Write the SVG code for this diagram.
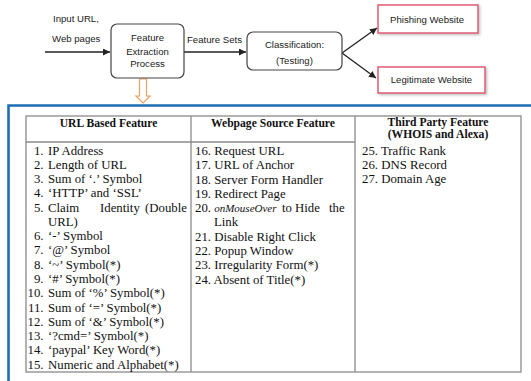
<svg xmlns="http://www.w3.org/2000/svg" width="531" height="381" viewBox="0 0 531 381">
<defs>
<marker id="ah" viewBox="0 0 10 10" refX="10" refY="5" markerWidth="7" markerHeight="7" orient="auto" markerUnits="userSpaceOnUse">
<path d="M0,0 L10,5 L0,10 z" fill="#222"/>
</marker>
<filter id="sh" x="-10%" y="-20%" width="130%" height="160%">
<feDropShadow dx="1.5" dy="1.5" stdDeviation="1.2" flood-color="#999" flood-opacity="0.6"/>
</filter>
</defs>
<style>
.lbl{font-family:"Liberation Sans","Arial",sans-serif;font-size:9.6px;fill:#222}
.box{fill:#fff;stroke:#444;stroke-width:1.2}
.rbox{fill:#fff;stroke:#e0506a;stroke-width:1.4}
.conn{stroke:#222;stroke-width:1.3;fill:none}
.tb{font-family:"Liberation Serif","Times New Roman",serif;font-size:12.8px;fill:#111}
.th{font-family:"Liberation Serif","Times New Roman",serif;font-size:11.6px;font-weight:bold;fill:#111;text-anchor:middle}
.grid{stroke:#8a8a8a;stroke-width:1.3;fill:none}
.num{text-anchor:end}
</style>
<rect width="531" height="381" fill="#fff"/>

<g id="labels">
<text class="lbl" x="53" y="22">Input URL,</text>
<text class="lbl" x="52" y="42">Web pages</text>
<text class="lbl" x="187" y="43">Feature Sets</text>
</g>

<g id="connectors">
<line class="conn" x1="45" y1="52" x2="110" y2="52" marker-end="url(#ah)"/>
<line class="conn" x1="184" y1="52" x2="246" y2="52" marker-end="url(#ah)"/>
<line class="conn" x1="342" y1="53" x2="377" y2="28" marker-end="url(#ah)"/>
<line class="conn" x1="342" y1="53" x2="376" y2="78" marker-end="url(#ah)"/>
<path d="M139.5,79 L146.5,79 L146.5,96 L150,96 L143,103 L136,96 L139.5,96 Z" fill="#fff" stroke="#f0a060" stroke-width="1.2"/>
</g>

<g id="feature-extraction">
<rect class="box" x="111" y="24" width="73" height="54" rx="6"/>
<text class="lbl" x="147.5" y="41" text-anchor="middle">Feature</text>
<text class="lbl" x="147.5" y="55" text-anchor="middle">Extraction</text>
<text class="lbl" x="147.5" y="67" text-anchor="middle">Process</text>
</g>

<g id="classification">
<rect class="box" x="247" y="32" width="95" height="38" rx="6"/>
<text class="lbl" x="294.5" y="48" text-anchor="middle">Classification:</text>
<text class="lbl" x="294.5" y="64" text-anchor="middle">(Testing)</text>
</g>

<g id="phishing">
<rect class="rbox" x="378" y="5" width="100" height="28" filter="url(#sh)"/>
<text class="lbl" x="427" y="22.5" text-anchor="middle">Phishing Website</text>
</g>

<g id="legitimate">
<rect class="rbox" x="378" y="67" width="107" height="26" filter="url(#sh)"/>
<text class="lbl" x="431.5" y="83" text-anchor="middle">Legitimate Website</text>
</g>

<g id="feature-table">
<path d="M8.5,381 L8.5,105.5 L531,105.5" fill="none" stroke="#1f6db3" stroke-width="2.6"/>
<rect class="grid" x="26" y="116" width="495" height="256"/>
<line class="grid" x1="191" y1="116" x2="191" y2="372"/>
<line class="grid" x1="355" y1="116" x2="355" y2="372"/>
<line class="grid" x1="26" y1="142" x2="355" y2="142"/>

<text class="th" x="108.5" y="127">URL Based Feature</text>
<text class="th" x="273" y="127">Webpage Source Feature</text>
<text class="th" x="438" y="126">Third Party Feature</text>
<text class="th" x="438" y="138">(WHOIS and Alexa)</text>

<g class="tb">
<text class="num" x="43.5" y="154.5">1.</text><text x="48" y="154.5">IP Address</text>
<text class="num" x="43.5" y="168.8">2.</text><text x="48" y="168.8">Length of URL</text>
<text class="num" x="43.5" y="183.1">3.</text><text x="48" y="183.1">Sum of ‘.’ Symbol</text>
<text class="num" x="43.5" y="197.3">4.</text><text x="48" y="197.3">‘HTTP’ and ‘SSL’</text>
<text class="num" x="43.5" y="211.6">5.</text><text x="48" y="211.6">Claim</text><text x="100" y="211.6">Identity</text><text x="187" y="211.6" text-anchor="end">(Double</text>
<text x="48" y="225.9">URL)</text>
<text class="num" x="43.5" y="240.2">6.</text><text x="48" y="240.2">‘-’ Symbol</text>
<text class="num" x="43.5" y="254.4">7.</text><text x="48" y="254.4">‘@’ Symbol</text>
<text class="num" x="43.5" y="268.7">8.</text><text x="48" y="268.7">‘~’ Symbol(*)</text>
<text class="num" x="43.5" y="283">9.</text><text x="48" y="283">‘#’ Symbol(*)</text>
<text class="num" x="43.5" y="297.3">10.</text><text x="48" y="297.3">Sum of ‘%’ Symbol(*)</text>
<text class="num" x="43.5" y="311.5">11.</text><text x="48" y="311.5">Sum of ‘=’ Symbol(*)</text>
<text class="num" x="43.5" y="325.8">12.</text><text x="48" y="325.8">Sum of ‘&amp;’ Symbol(*)</text>
<text class="num" x="43.5" y="340.1">13.</text><text x="48" y="340.1">‘?cmd=’ Symbol(*)</text>
<text class="num" x="43.5" y="354.4">14.</text><text x="48" y="354.4">‘paypal’ Key Word(*)</text>
<text class="num" x="43.5" y="368.6">15.</text><text x="48" y="368.6">Numeric and Alphabet(*)</text>

<text x="195" y="155">16. Request URL</text>
<text x="195" y="169.3">17. URL of Anchor</text>
<text x="195" y="183.6">18. Server Form Handler</text>
<text x="195" y="197.8">19. Redirect Page</text>
<text x="195" y="212.1">20. <tspan font-style="italic" font-size="11px">onMouseOver</tspan><tspan x="282">to</tspan><tspan x="295">Hide</tspan><tspan x="329">the</tspan></text>
<text x="214" y="226.4">Link</text>
<text x="195" y="240.7">21. Disable Right Click</text>
<text x="195" y="254.9">22. Popup Window</text>
<text x="195" y="269.2">23. Irregularity Form(*)</text>
<text x="195" y="283.5">24. Absent of Title(*)</text>

<text x="362" y="155">25. Traffic Rank</text>
<text x="362" y="168.5">26. DNS Record</text>
<text x="362" y="183">27. Domain Age</text>
</g>
</g>
</svg>
